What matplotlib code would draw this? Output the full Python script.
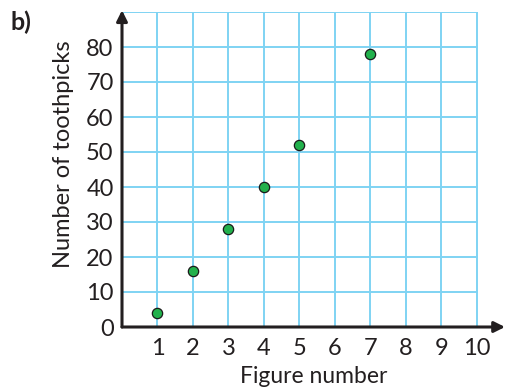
import matplotlib.pyplot as plt

# figure number vs number of toothpicks
figure_no = [1, 2, 3, 4, 5, 7]
toothpicks = [4, 16, 28, 40, 52, 78]
x_ticks = [1, 2, 3, 4, 5, 6, 7, 8, 9, 10]
y_ticks = [0, 10, 20, 30, 40, 50, 60, 70, 80]

plt.rcParams['font.family'] = ['Lato', 'DejaVu Sans']

fig = plt.figure(figsize=(5.05, 3.88), dpi=100)
ax = fig.add_axes([122 / 505, 61 / 388, 383 / 505, 315 / 388])
ax.set_xlim(0, 10.8)
ax.set_ylim(0, 90)

grid_col = '#7fd3f3'
for x in x_ticks:
    ax.plot([x, x], [0, 90], color=grid_col, lw=1.4, zorder=1)
for y in y_ticks[1:] + [90]:
    ax.plot([0, 10], [y, y], color=grid_col, lw=1.4, zorder=1)

for s in ax.spines.values():
    s.set_visible(False)

# axes with arrow heads
ax.annotate('', xy=(10.8, 0), xytext=(0, 0), xycoords='data',
            arrowprops=dict(arrowstyle='-|>', color='#231f20', lw=2.2,
                            mutation_scale=16, shrinkA=0, shrinkB=0),
            annotation_clip=False, zorder=3)
ax.annotate('', xy=(0, 90.5), xytext=(0, 0), xycoords='data',
            arrowprops=dict(arrowstyle='-|>', color='#231f20', lw=2.2,
                            mutation_scale=16, shrinkA=0, shrinkB=0),
            annotation_clip=False, zorder=3)

ax.scatter(figure_no, toothpicks, s=55, color='#22b14c', edgecolor='#1a1a1a',
           linewidth=0.9, zorder=4, clip_on=False)

ax.set_xticks(x_ticks)
ax.set_yticks(y_ticks)
ax.tick_params(length=0, labelsize=17, labelcolor='#231f20')
ax.tick_params(axis='x', pad=8)
ax.tick_params(axis='y', pad=6)

ax.set_xlabel('Figure number', fontsize=16.5, color='#231f20', labelpad=5)
ax.set_ylabel('Number of toothpicks', fontsize=17, color='#231f20')
ax.yaxis.set_label_coords(-0.125, 0.55)

fig.text(10 / 505, 1 - 11 / 388, 'b)', fontsize=18, fontweight='bold', color='#231f20',
         va='top', ha='left')

fig.savefig('out.png', dpi=100)
